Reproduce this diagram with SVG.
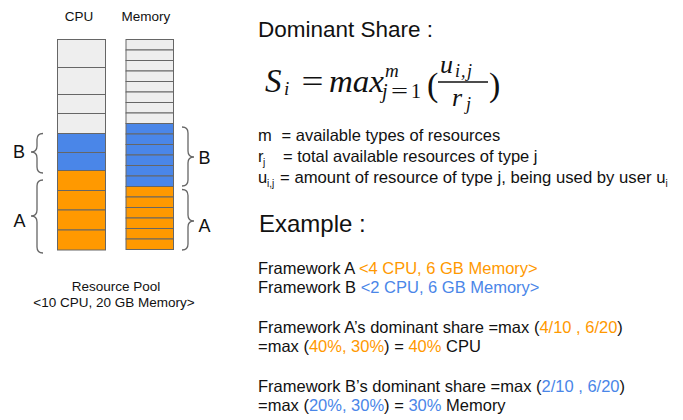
<svg xmlns="http://www.w3.org/2000/svg" width="683" height="420" viewBox="0 0 683 420">
<style>
.t{font-family:"Liberation Sans",Arial,sans-serif;fill:#111}
.m{font-family:"Liberation Serif","Times New Roman",serif;font-style:italic;fill:#111}
.u{font-family:"Liberation Serif","Times New Roman",serif;fill:#111}
.g{fill:#eeeeee;stroke:#666;stroke-width:1}
.b{fill:#4a86e8;stroke:#666;stroke-width:1}
.o{fill:#ff9900;stroke:#666;stroke-width:1}
.br{fill:none;stroke:#666;stroke-width:1.3}
.or{fill:#ff9900}
.bl{fill:#4a86e8}
</style>
<rect width="683" height="420" fill="#fff"/>
<g id="cpu-bar">
<text class="t" x="79" y="21" font-size="13.5" text-anchor="middle">CPU</text>
<rect class="g" x="57.5" y="39.5" width="48" height="28"/>
<rect class="g" x="57.5" y="67.5" width="48" height="27"/>
<rect class="g" x="57.5" y="94.5" width="48" height="19"/>
<rect class="g" x="57.5" y="113.5" width="48" height="20"/>
<rect class="b" x="57.5" y="133.5" width="48" height="19"/>
<rect class="b" x="57.5" y="152.5" width="48" height="18"/>
<rect class="o" x="57.5" y="170.5" width="48" height="20"/>
<rect class="o" x="57.5" y="190.5" width="48" height="19.5"/>
<rect class="o" x="57.5" y="210" width="48" height="20"/>
<rect class="o" x="57.5" y="230" width="48" height="20"/>
</g>
<g id="memory-bar">
<text class="t" x="146" y="21" font-size="13.5" text-anchor="middle">Memory</text>
<rect class="g" x="126" y="39.5" width="47.5" height="10.5"/>
<rect class="g" x="126" y="50" width="47.5" height="10.5"/>
<rect class="g" x="126" y="60.5" width="47.5" height="10.5"/>
<rect class="g" x="126" y="71" width="47.5" height="10.5"/>
<rect class="g" x="126" y="81.5" width="47.5" height="10.5"/>
<rect class="g" x="126" y="92" width="47.5" height="10.5"/>
<rect class="g" x="126" y="102.5" width="47.5" height="10.5"/>
<rect class="g" x="126" y="113" width="47.5" height="10.5"/>
<rect class="b" x="126" y="123.5" width="47.5" height="10.5"/>
<rect class="b" x="126" y="134" width="47.5" height="10.5"/>
<rect class="b" x="126" y="144.5" width="47.5" height="10.5"/>
<rect class="b" x="126" y="155" width="47.5" height="10.5"/>
<rect class="b" x="126" y="165.5" width="47.5" height="10.5"/>
<rect class="b" x="126" y="176" width="47.5" height="10.5"/>
<rect class="o" x="126" y="186.5" width="47.5" height="10.5"/>
<rect class="o" x="126" y="197" width="47.5" height="10.5"/>
<rect class="o" x="126" y="207.5" width="47.5" height="10.5"/>
<rect class="o" x="126" y="218" width="47.5" height="10.5"/>
<rect class="o" x="126" y="228.5" width="47.5" height="10.5"/>
<rect class="o" x="126" y="239" width="47.5" height="10.5"/>
</g>
<g id="braces">
<path class="br" d="M43,133.5 Q37,133.5 37,139.5 L37,146 Q37,152 31,152 Q37,152 37,158 L37,167 Q37,173 43,173"/>
<path class="br" d="M43,180 Q37,180 37,186 L37,210 Q37,216 31,216 Q37,216 37,222 L37,247 Q37,253 43,253"/>
<path class="br" d="M182,127 Q188,127 188,133 L188,151 Q188,157 194,157 Q188,157 188,163 L188,180 Q188,186 182,186"/>
<path class="br" d="M182,189.5 Q188,189.5 188,195.5 L188,215 Q188,221 194,221 Q188,221 188,227 L188,244 Q188,250 182,250"/>
<text class="t" x="19" y="157.5" font-size="18" text-anchor="middle">B</text>
<text class="t" x="19.5" y="227" font-size="18" text-anchor="middle">A</text>
<text class="t" x="204.5" y="163.5" font-size="18" text-anchor="middle">B</text>
<text class="t" x="204.5" y="232" font-size="18" text-anchor="middle">A</text>
</g>
<g id="pool-label">
<text class="t" x="116" y="291" font-size="13.5" text-anchor="middle">Resource Pool</text>
<text class="t" x="114" y="306.5" font-size="13.5" text-anchor="middle">&lt;10 CPU, 20 GB Memory&gt;</text>
</g>
<g id="dominant-share">
<text class="t" x="258" y="37" font-size="22.5">Dominant Share :</text>
<text class="m" x="265" y="92" font-size="33">S</text>
<text class="m" x="284" y="95" font-size="19">i</text>
<text class="u" x="301.5" y="92" font-size="32" textLength="22" lengthAdjust="spacingAndGlyphs">=</text>
<text class="m" x="329" y="92" font-size="31" textLength="55" lengthAdjust="spacingAndGlyphs">max</text>
<text class="m" x="385" y="77" font-size="19">m</text>
<text class="m" x="382" y="98" font-size="20">j</text>
<text class="u" x="391" y="98" font-size="20" textLength="17" lengthAdjust="spacingAndGlyphs">=</text>
<text class="u" x="411" y="98" font-size="20">1</text>
<text class="u" x="427" y="96" font-size="34">(</text>
<text class="m" x="440" y="73" font-size="26">u</text>
<text class="m" x="455" y="77" font-size="18">i</text>
<text class="m" x="461" y="77" font-size="18">,</text>
<text class="m" x="467" y="77" font-size="18">j</text>
<line x1="438" y1="82" x2="488" y2="82" stroke="#111" stroke-width="1.3"/>
<text class="m" x="452" y="106" font-size="26">r</text>
<text class="m" x="466" y="110" font-size="18">j</text>
<text class="u" x="489" y="96" font-size="34">)</text>
</g>
<g id="definitions" font-size="16.5">
<text class="t" y="140.5"><tspan x="258">m</tspan><tspan x="281.5">= available types of resources</tspan></text>
<text class="t" y="161.5"><tspan x="258">r</tspan><tspan x="263" y="166" font-size="10">j</tspan><tspan x="283" y="161.5">= total available resources of type j</tspan></text>
<text class="t" y="182.5"><tspan x="258">u</tspan><tspan x="267" y="187" font-size="10">i,j</tspan><tspan x="280" y="182.5" font-size="16.7">= amount of resource of type j, being used by user u</tspan><tspan y="187" font-size="10">i</tspan></text>
</g>
<g id="example">
<text class="t" x="259" y="231.5" font-size="24">Example :</text>
<g font-size="16.5">
<text class="t" x="258" y="273.5">Framework A <tspan class="or">&lt;4 CPU, 6 GB Memory&gt;</tspan></text>
<text class="t" x="258" y="292.5">Framework B <tspan class="bl">&lt;2 CPU, 6 GB Memory&gt;</tspan></text>
<text class="t" x="258" y="332.5">Framework A’s dominant share =max (<tspan class="or">4/10 , 6/20</tspan>)</text>
<text class="t" x="258" y="351.5">=max (<tspan class="or">40%, 30%</tspan>) = <tspan class="or">40%</tspan> CPU</text>
<text class="t" x="258" y="391.5">Framework B’s dominant share =max (<tspan class="bl">2/10 , 6/20</tspan>)</text>
<text class="t" x="258" y="410.5">=max (<tspan class="bl">20%, 30%</tspan>) = <tspan class="bl">30%</tspan> Memory</text>
</g>
</g>
</svg>
